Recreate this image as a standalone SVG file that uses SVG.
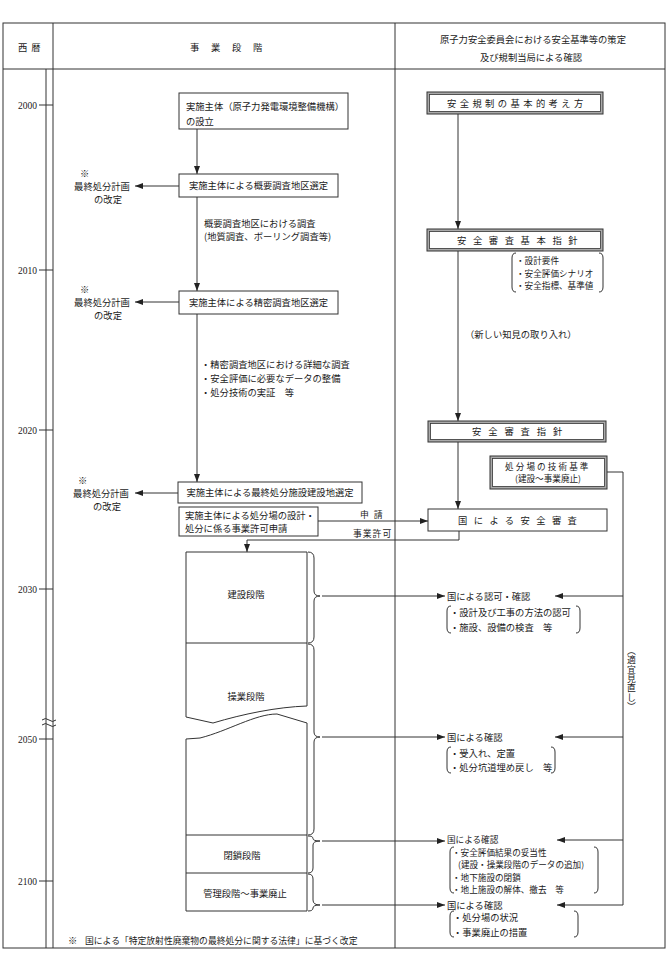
<svg xmlns="http://www.w3.org/2000/svg" width="669" height="958" viewBox="0 0 669 958">
<style>
.t{font-family:"Noto Sans CJK JP","Noto Sans",sans-serif;font-size:9.3px;fill:#1a1a1a}
.s{font-family:"Noto Sans CJK JP","Noto Sans",sans-serif;font-size:8.8px;fill:#1a1a1a}
.sm{font-family:"Noto Sans CJK JP","Noto Sans",sans-serif;font-size:8.6px;fill:#1a1a1a}
.yr{font-family:"Liberation Serif",serif;font-size:9.5px;fill:#1a1a1a}
.m{text-anchor:middle}
.ln{stroke:#333;stroke-width:1;fill:none}
.bx{fill:#fff;stroke:#333;stroke-width:1}
.dbo{fill:#aaa;stroke:#333;stroke-width:1}
.dbi{fill:#fff;stroke:#333;stroke-width:0.8}
.a{marker-end:url(#ah)}
</style>
<defs>
<marker id="ah" viewBox="0 0 8 6" refX="8" refY="3" markerWidth="8" markerHeight="6" markerUnits="userSpaceOnUse" orient="auto">
<path d="M0,0 L8,3 L0,6 Z" fill="#222"/>
</marker>
</defs>
<rect width="669" height="958" fill="#fff"/>

<g id="frame">
<rect x="3" y="23" width="662" height="925" class="ln"/>
<line x1="3" y1="69" x2="665" y2="69" class="ln" stroke-width="1.2"/>
<line x1="53" y1="23" x2="53" y2="948" class="ln"/>
<line x1="46" y1="69" x2="46" y2="948" class="ln"/>
<line x1="395" y1="23" x2="395" y2="948" class="ln"/>
<text x="18" y="51" class="t" letter-spacing="4">西暦</text>
<text x="190" y="51" class="t" letter-spacing="11.7">事業段階</text>
<text x="533" y="43" class="t m">原子力安全委員会における安全基準等の策定</text>
<text x="531" y="61" class="t m">及び規制当局による確認</text>
</g>

<g id="years">
<g class="ln">
<line x1="39" y1="105" x2="53" y2="105"/>
<line x1="39" y1="270" x2="53" y2="270"/>
<line x1="39" y1="430" x2="53" y2="430"/>
<line x1="39" y1="589" x2="53" y2="589"/>
<line x1="39" y1="739" x2="53" y2="739"/>
<line x1="39" y1="881" x2="53" y2="881"/>
<path d="M42,720 q3.5,-3 7,0 t7,0 M42,725 q3.5,-3 7,0 t7,0"/>
</g>
<text x="37" y="108.5" class="yr" text-anchor="end">2000</text>
<text x="37" y="273.5" class="yr" text-anchor="end">2010</text>
<text x="37" y="433.5" class="yr" text-anchor="end">2020</text>
<text x="37" y="592.5" class="yr" text-anchor="end">2030</text>
<text x="37" y="742.5" class="yr" text-anchor="end">2050</text>
<text x="37" y="884.5" class="yr" text-anchor="end">2100</text>
</g>

<g id="connectors">
<line x1="197" y1="129" x2="197" y2="174" class="ln a"/>
<line x1="197" y1="197" x2="197" y2="291" class="ln a"/>
<line x1="197" y1="314" x2="197" y2="482" class="ln a"/>
<line x1="179" y1="186" x2="135" y2="186" class="ln a"/>
<line x1="179" y1="302" x2="135" y2="302" class="ln a"/>
<line x1="178" y1="493" x2="135" y2="493" class="ln a"/>
<line x1="318" y1="521" x2="428" y2="521" class="ln a"/>
<path d="M459,531 L459,540 L247,540 L247,552" class="ln a"/>
<line x1="458" y1="114" x2="458" y2="229" class="ln a"/>
<line x1="458" y1="251" x2="458" y2="421" class="ln a"/>
<line x1="458" y1="442" x2="458" y2="509" class="ln a"/>
<path d="M607,472 L623,472 L623,905" class="ln"/>
<line x1="623" y1="596" x2="555" y2="596" class="ln a"/>
<line x1="623" y1="737" x2="555" y2="737" class="ln a"/>
<line x1="623" y1="840" x2="557" y2="840" class="ln a"/>
<line x1="623" y1="905" x2="557" y2="905" class="ln a"/>
<line x1="322" y1="596" x2="445" y2="596" class="ln a"/>
<line x1="322" y1="737" x2="445" y2="737" class="ln a"/>
<line x1="322" y1="841" x2="445" y2="841" class="ln a"/>
<line x1="322" y1="905" x2="445" y2="905" class="ln a"/>
<text x="360" y="518" class="s" letter-spacing="5">申請</text>
<text x="353" y="537" class="s" letter-spacing="1">事業許可</text>
<text x="465" y="337.5" class="t">（新しい知見の取り入れ）</text>
<text class="s m" x="631.5 631.5 631.5 631.5 631.5 631.5 631.5" y="654 663.3 672.6 681.9 691.2 700.5 709.8">︵適宜見直し︶</text>
</g>

<g id="n-setup">
<rect x="179" y="93" width="169" height="36" class="bx"/>
<text x="186" y="109.5" class="t">実施主体（原子力発電環境整備機構）</text>
<text x="186" y="124.5" class="t">の設立</text>
</g>
<g id="n-gaiyo">
<rect x="179" y="174" width="159" height="23" class="bx"/>
<text x="258.5" y="189" class="t m">実施主体による概要調査地区選定</text>
</g>
<g id="n-gaiyo-note">
<text x="204" y="226.5" class="t">概要調査地区における調査</text>
<text x="204" y="239.5" class="t">(地質調査、ボーリング調査等)</text>
</g>
<g id="n-seimitsu">
<rect x="179" y="291" width="159" height="23" class="bx"/>
<text x="258.5" y="305.5" class="t m">実施主体による精密調査地区選定</text>
</g>
<g id="n-seimitsu-note">
<text x="201" y="367.5" class="t">・精密調査地区における詳細な調査</text>
<text x="201" y="381.5" class="t">・安全評価に必要なデータの整備</text>
<text x="201" y="395.5" class="t">・処分技術の実証　等</text>
</g>
<g id="n-saishu">
<rect x="178" y="482" width="184" height="21" class="bx"/>
<text x="270" y="496" class="t m">実施主体による最終処分施設建設地選定</text>
</g>
<g id="n-shinsei">
<rect x="179" y="507" width="139" height="29" class="bx"/>
<text x="185" y="519" class="t">実施主体による処分場の設計・</text>
<text x="185" y="532" class="t">処分に係る事業許可申請</text>
</g>
<g id="n-kaitei1">
<text x="80" y="177" class="t">※</text>
<text x="102" y="189.5" class="t m">最終処分計画</text>
<text x="108" y="203" class="t m">の改定</text>
</g>
<g id="n-kaitei2">
<text x="80" y="293" class="t">※</text>
<text x="102" y="305.5" class="t m">最終処分計画</text>
<text x="108" y="319" class="t m">の改定</text>
</g>
<g id="n-kaitei3">
<text x="78" y="484" class="t">※</text>
<text x="101" y="496.5" class="t m">最終処分計画</text>
<text x="107" y="510" class="t m">の改定</text>
</g>

<g id="n-phases">
<path d="M186,552 L307,552 L307,706 C277,707 243,714 213,723 L186,717 Z" class="bx"/>
<line x1="186" y1="643" x2="307" y2="643" class="ln"/>
<path d="M186,739 L200,738 C228,731 255,714 277,714 L307,723 L307,911 L186,911 Z" class="bx"/>
<line x1="186" y1="835" x2="307" y2="835" class="ln"/>
<line x1="186" y1="873" x2="307" y2="873" class="ln"/>
<text x="246" y="597.5" class="t m">建設段階</text>
<text x="246" y="699.5" class="t m">操業段階</text>
<text x="242" y="858.5" class="t m">閉鎖段階</text>
<text x="245" y="896.5" class="t m">管理段階～事業廃止</text>
<path class="ln" d="M308,552 Q314,552 314,558 L314,591 Q314,596 320,596 Q314,596 314,601 L314,637 Q314,643 308,643"/>
<path class="ln" d="M308,644 Q314,644 314,650 L314,732 Q314,737 320,737 Q314,737 314,742 L314,829 Q314,835 308,835"/>
<path class="ln" d="M308,836 Q313,836 313,838.5 Q313,841 320,841 Q313,841 313,845 L313,868 Q313,873 308,873"/>
<path class="ln" d="M308,874 Q313,874 313,879 L313,900 Q313,905 320,905 Q313,905 313,908 Q313,911 308,911"/>
</g>

<g id="n-kihon">
<rect x="427" y="92" width="176" height="22" class="dbo"/>
<rect x="429.5" y="94.5" width="171" height="17" class="dbi"/>
<text x="447" y="106.5" class="t" letter-spacing="3.4">安全規制の基本的考え方</text>
</g>
<g id="n-kihonshishin">
<rect x="427" y="229" width="176" height="22" class="dbo"/>
<rect x="429.5" y="231.5" width="171" height="17" class="dbi"/>
<text x="457" y="243.5" class="t" letter-spacing="6.6">安全審査基本指針</text>
</g>
<g id="n-kihonshishin-note">
<path class="ln" d="M516,253 Q512,253 512,258 L512,287 Q512,292 516,292 M599,253 Q603,253 603,258 L603,287 Q603,292 599,292"/>
<text x="516" y="264" class="sm">・設計要件</text>
<text x="516" y="276.5" class="sm">・安全評価シナリオ</text>
<text x="516" y="289" class="sm">・安全指標、基準値</text>
</g>
<g id="n-shishin">
<rect x="428" y="421" width="178" height="21" class="dbo"/>
<rect x="430.5" y="423.5" width="173" height="16" class="dbi"/>
<text x="472" y="435" class="t" letter-spacing="6.9">安全審査指針</text>
</g>
<g id="n-kijun">
<rect x="490" y="456" width="117" height="33" class="dbo"/>
<rect x="492.5" y="458.5" width="112" height="28" class="dbi"/>
<text x="505" y="469.5" class="sm" letter-spacing="2.1">処分場の技術基準</text>
<text x="548" y="482" class="sm m">(建設～事業廃止)</text>
</g>
<g id="n-shinsa">
<rect x="428" y="509" width="179" height="22" class="bx" stroke-width="1.4"/>
<text x="458" y="523.5" class="t" letter-spacing="6.4">国による安全審査</text>
</g>

<g id="n-check1">
<text x="447" y="599.5" class="t">国による認可・確認</text>
<path class="ln" d="M451,606 Q447,606 447,611 L447,628 Q447,633 451,633 M576,606 Q580,606 580,611 L580,628 Q580,633 576,633"/>
<text x="450" y="615.5" class="t">・設計及び工事の方法の認可</text>
<text x="450" y="630.5" class="t">・施設、設備の検査　等</text>
</g>
<g id="n-check2">
<text x="447" y="740.5" class="t">国による確認</text>
<path class="ln" d="M451,747 Q447,747 447,752 L447,768 Q447,773 451,773 M551,747 Q555,747 555,752 L555,768 Q555,773 551,773"/>
<text x="450" y="756.5" class="t">・受入れ、定置</text>
<text x="450" y="770.5" class="t">・処分坑道埋め戻し　等</text>
</g>
<g id="n-check3">
<text x="447" y="843" class="sm">国による確認</text>
<path class="ln" d="M454,847 Q450,847 450,852 L450,888 Q450,893 454,893 M594,847 Q598,847 598,852 L598,888 Q598,893 594,893"/>
<text x="452" y="855.5" class="sm">・安全評価結果の妥当性</text>
<text x="458" y="868" class="sm">(建設・操業段階のデータの追加)</text>
<text x="452" y="880.5" class="sm">・地下施設の閉鎖</text>
<text x="452" y="893" class="sm">・地上施設の解体、撤去　等</text>
</g>
<g id="n-check4">
<text x="447" y="908.5" class="t">国による確認</text>
<path class="ln" d="M454,911 Q450,911 450,916 L450,932 Q450,937 454,937 M574,911 Q578,911 578,916 L578,932 Q578,937 574,937"/>
<text x="453" y="921" class="t">・処分場の状況</text>
<text x="453" y="935.5" class="t">・事業廃止の措置</text>
</g>

<g id="footnote">
<text x="68" y="944" class="t">※</text>
<text x="85" y="944" class="s">国による「特定放射性廃棄物の最終処分に関する法律」に基づく改定</text>
</g>
</svg>
